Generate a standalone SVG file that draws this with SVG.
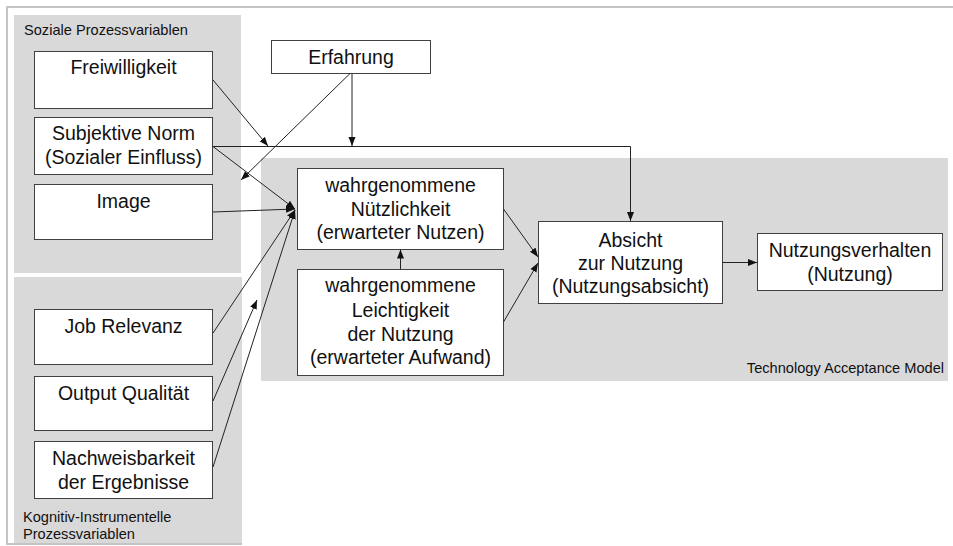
<svg xmlns="http://www.w3.org/2000/svg" width="953" height="546" viewBox="0 0 953 546">
<defs>
<style>
.panel{fill:#d9d9d9;stroke:none}
.box{fill:#ffffff;stroke:#404040;stroke-width:1}
.t{font-family:"Liberation Sans",Arial,sans-serif;font-size:19.5px;fill:#111;text-anchor:middle}
.s{font-family:"Liberation Sans",Arial,sans-serif;font-size:14.6px;fill:#111}
.c{fill:none;stroke:#222;stroke-width:1}
.frame{fill:none;stroke:#c4c4c4;stroke-width:2}
</style>
<marker id="ah" markerUnits="userSpaceOnUse" markerWidth="10" markerHeight="8" refX="9" refY="4" orient="auto">
<path d="M0,0.5 L9,4 L0,7.5 z" fill="#111"/>
</marker>
</defs>
<rect width="953" height="546" fill="#ffffff"/>
<g id="frame">
<path class="frame" d="M953,7 H7 V544 H242"/>
</g>
<g id="panel-sozial">
<rect class="panel" x="14" y="15" width="227" height="258"/>
<text class="s" x="24" y="35">Soziale Prozessvariablen</text>
</g>
<g id="panel-kognitiv">
<rect class="panel" x="14" y="277" width="228" height="266"/>
<text class="s" x="23" y="522">Kognitiv-Instrumentelle</text>
<text class="s" x="23" y="539">Prozessvariablen</text>
</g>
<g id="panel-tam">
<rect class="panel" x="261" y="158" width="687" height="223"/>
<text class="s" x="944" y="373" text-anchor="end">Technology Acceptance Model</text>
</g>
<g id="freiwilligkeit">
<rect class="box" x="34.5" y="51.5" width="178" height="57"/>
<text class="t" x="123.5" y="73.5">Freiwilligkeit</text>
</g>
<g id="subjektive-norm">
<rect class="box" x="34.5" y="117.5" width="178" height="57"/>
<text class="t" x="123.5" y="140">Subjektive Norm</text>
<text class="t" x="123.5" y="163.5">(Sozialer Einfluss)</text>
</g>
<g id="image">
<rect class="box" x="34.5" y="184.5" width="178" height="55"/>
<text class="t" x="123.5" y="208">Image</text>
</g>
<g id="job-relevanz">
<rect class="box" x="34.5" y="309.5" width="178" height="55"/>
<text class="t" x="123.5" y="333">Job Relevanz</text>
</g>
<g id="output-qualitaet">
<rect class="box" x="34.5" y="376.5" width="178" height="54"/>
<text class="t" x="123.5" y="399.5">Output Qualität</text>
</g>
<g id="nachweisbarkeit">
<rect class="box" x="34.5" y="441.5" width="178" height="57"/>
<text class="t" x="123.5" y="465">Nachweisbarkeit</text>
<text class="t" x="123.5" y="488.5">der Ergebnisse</text>
</g>
<g id="erfahrung">
<rect class="box" x="271.5" y="40.5" width="159" height="33"/>
<text class="t" x="351" y="64">Erfahrung</text>
</g>
<g id="nuetzlichkeit">
<rect class="box" x="297.5" y="168.5" width="206" height="81"/>
<text class="t" x="400.5" y="192">wahrgenommene</text>
<text class="t" x="400.5" y="215.5">Nützlichkeit</text>
<text class="t" x="400.5" y="239">(erwarteter Nutzen)</text>
</g>
<g id="leichtigkeit">
<rect class="box" x="297.5" y="269.5" width="206" height="106"/>
<text class="t" x="400.5" y="292">wahrgenommene</text>
<text class="t" x="400.5" y="316.5">Leichtigkeit</text>
<text class="t" x="400.5" y="340.5">der Nutzung</text>
<text class="t" x="400.5" y="364">(erwarteter Aufwand)</text>
</g>
<g id="absicht">
<rect class="box" x="538.5" y="221.5" width="184" height="82"/>
<text class="t" x="630.5" y="246.5">Absicht</text>
<text class="t" x="630.5" y="270">zur Nutzung</text>
<text class="t" x="630.5" y="293">(Nutzungsabsicht)</text>
</g>
<g id="nutzungsverhalten">
<rect class="box" x="757.5" y="233.5" width="185" height="57"/>
<text class="t" x="850" y="257">Nutzungsverhalten</text>
<text class="t" x="850" y="280.5">(Nutzung)</text>
</g>
<g id="connectors">
<path class="c" d="M213,80 L268,146" marker-end="url(#ah)"/>
<path class="c" d="M352,73.5 V146" marker-end="url(#ah)"/>
<path class="c" d="M350,73.5 L241,180" marker-end="url(#ah)"/>
<path class="c" d="M213,146.5 H630.5 V221" marker-end="url(#ah)"/>
<path class="c" d="M213,146.5 L295,209" marker-end="url(#ah)"/>
<path class="c" d="M213,212 L295,209" marker-end="url(#ah)"/>
<path class="c" d="M213,333 L295,210" marker-end="url(#ah)"/>
<path class="c" d="M213,401 L257,300" marker-end="url(#ah)"/>
<path class="c" d="M213,467 L295,210" marker-end="url(#ah)"/>
<path class="c" d="M400.5,269 V249.5" marker-end="url(#ah)"/>
<path class="c" d="M503.5,209 L538,257" marker-end="url(#ah)"/>
<path class="c" d="M503.5,322 L538,263" marker-end="url(#ah)"/>
<path class="c" d="M722.5,262.5 H757" marker-end="url(#ah)"/>
</g>
</svg>
